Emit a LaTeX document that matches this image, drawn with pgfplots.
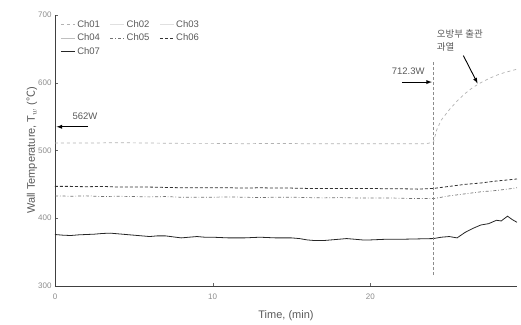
\documentclass[border=0pt]{standalone}
\usepackage{pgfplots}
\pgfplotsset{compat=1.18}
\usepackage{fontspec}
\setmainfont{Liberation Sans}
\newfontfamily\cjk{Noto Sans CJK KR}
\definecolor{txt}{gray}{0.35}
\definecolor{tick}{gray}{0.55}
\begin{document}
\begin{tikzpicture}
\begin{axis}[
  scale only axis, width=462pt, height=271pt,
  xmin=0, xmax=29.3, ymin=300, ymax=700,
  xtick={0,10,20}, ytick={300,400,500,600,700},
  axis x line*=bottom, axis y line*=left,
  axis line style={draw=black!75, line width=0.6pt},
  tick align=inside, major tick length=3pt,
  tick style={black!60},
  /pgf/number format/assume math mode=true,
  ticklabel style={font=\fontsize{8}{9}\selectfont, text=tick},
  xticklabel style={yshift=-4pt},
  xlabel={Time, (min)}, ylabel={Wall Temperature, T$_w$ ({\cjk ℃})},
  label style={font=\fontsize{11}{13}\selectfont, text=txt},
  xlabel style={yshift=-4pt}, ylabel style={yshift=-6pt},
  clip=false,
  legend columns=3,
  legend style={draw=none, fill=none, at={(0.005,0.995)}, anchor=north west,
    font=\fontsize{9.5}{11}\selectfont, text=txt, row sep=1pt,
    /tikz/every even column/.append style={column sep=8pt}},
  legend cell align=left,
  legend image code/.code={\draw[#1] (0pt,0pt) -- (14pt,0pt);},
]
% Ch01
\addplot[black!30, dashed, line width=0.7pt] coordinates {
(0,511) (2,511) (4,511.5) (6,511) (8,510.5) (10,510.5) (12,510) (14,510.5) (16,510) (18,510) (20,510) (22,510) (23.5,510) (24,512)
(24.2,530) (24.5,545) (25,560) (25.5,573) (26,584) (26.5,593) (27,600) (27.5,606) (28,611) (28.5,615) (29.3,620)};
\addlegendentry{Ch01}
\addlegendimage{black!12, line width=0.6pt}
\addlegendentry{Ch02}
\addlegendimage{black!12, line width=0.6pt}
\addlegendentry{Ch03}
\addlegendimage{black!25, line width=0.6pt}
\addlegendentry{Ch04}
% Ch05
\addplot[black!55, line width=0.7pt, dash dot] coordinates {
(0,433) (1,432.5) (2,433) (3,432) (4,432.5) (5,432) (6,431.5) (7,432) (8,431) (9,431) (10,431) (11,431.5) (12,431) (13,430.5) (14,431) (15,431) (16,430.5) (17,430) (18,430.5) (19,430) (20,430) (21,430) (22,429.5) (23,429) (24,429)
(25,433) (26,436) (27,439) (28,441) (28.7,443) (29.3,445)};
\addlegendentry{Ch05}
% Ch06
\addplot[black!80, line width=0.8pt, densely dashed] coordinates {
(0,447) (1,447) (2,446.5) (3,447) (4,446) (5,446) (6,446) (7,445.5) (8,445) (9,445) (10,445) (11,445) (12,444.5) (13,445) (14,444.5) (15,444.5) (16,444) (17,444) (18,444) (19,444) (20,444) (21,443.5) (22,443.5) (23,443) (24,444)
(25,447) (26,450) (27,452) (28,455) (28.7,456.5) (29.3,458)};
\addlegendentry{Ch06}
% Ch07
\addplot[black!85, line width=0.8pt] coordinates {
(0,376) (0.5,375) (1,374.5) (1.5,375.5) (2,376) (2.5,376.5) (3,377.5) (3.5,378) (4,377) (4.5,376) (5,375) (5.5,374) (6,373) (6.5,374) (7,374) (7.5,372.5) (8,371) (8.5,372) (9,373) (9.5,372) (10,372) (11,371) (12,371) (13,372) (14,371) (15,371) (15.5,370) (16,368) (16.5,367) (17,367) (17.5,368) (18,369) (18.5,370) (19,369) (19.5,368) (20,368) (21,369) (22,369) (23,369.5) (24,370)
(24.5,372) (25,373) (25.5,371) (26,379) (26.5,385) (27,390) (27.5,392) (28,397) (28.3,396) (28.7,403) (29,398) (29.3,394)};
\addlegendentry{Ch07}
% vertical marker
\draw[black!45, densely dashed, line width=0.5pt] (axis cs:24,316) -- (axis cs:24,632);
% annotations
\draw[-latex, black, line width=0.9pt] (axis cs:2.1,535) -- (axis cs:0.1,535);
\node[text=txt, font=\fontsize{9.5}{11}\selectfont] at (axis cs:1.9,550) {562W};
\draw[-latex, black, line width=0.9pt] (axis cs:22.0,601) -- (axis cs:23.9,601);
\node[text=txt, font=\fontsize{9.5}{11}\selectfont] at (axis cs:22.4,617) {712.3W};
\node[text=txt, font=\cjk\fontsize{9.5}{13}\selectfont, align=left, anchor=north west] at (axis cs:24.0,684) {오방부 출관\\과열};
\draw[-latex, black, line width=0.9pt] (axis cs:25.9,640) -- (axis cs:26.8,599);
\end{axis}
\pgfresetboundingbox
\path[use as bounding box] ([shift={(-55pt,-39pt)}]current axis.south west) rectangle ([shift={(4pt,15pt)}]current axis.north east);
\end{tikzpicture}
\end{document}
